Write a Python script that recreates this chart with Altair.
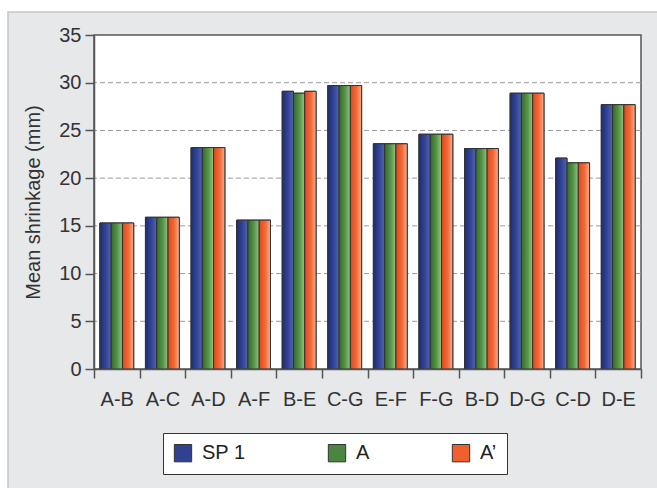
import altair as alt
import pandas as pd

categories = ["A-B", "A-C", "A-D", "A-F", "B-E", "C-G", "E-F", "F-G", "B-D", "D-G", "C-D", "D-E"]
series_names = ["SP 1", "A", "A’"]
sp1_values = [15.3, 15.9, 23.2, 15.6, 29.1, 29.7, 23.6, 24.6, 23.1, 28.9, 22.1, 27.7]
a_values = [15.3, 15.9, 23.2, 15.6, 28.9, 29.7, 23.6, 24.6, 23.1, 28.9, 21.6, 27.7]
ap_values = [15.3, 15.9, 23.2, 15.6, 29.1, 29.7, 23.6, 24.6, 23.1, 28.9, 21.6, 27.7]
grid_values = [5, 10, 15, 20, 25, 30]
y_ticks = [0, 5, 10, 15, 20, 25, 30, 35]

base_colors = ["#30418f", "#4b8540", "#f0602e"]
gradients = [
    ["#1f2c6e", "#34469a", "#5364b4"],
    ["#35692c", "#559649", "#96c487"],
    ["#dc4a1a", "#f26a38", "#ffad8e"],
]

rows = []
for s, vals in zip(series_names, [sp1_values, a_values, ap_values]):
    for c, v in zip(categories, vals):
        rows.append({"cat": c, "series": s, "value": v})
df = pd.DataFrame(rows)

W, H = 547, 334
PAD_L, PAD_T = 94, 35
FONT = "Liberation Sans"

x_enc = alt.X("cat:N", sort=categories, title=None,
              scale=alt.Scale(paddingInner=0, paddingOuter=0),
              axis=alt.Axis(labelAngle=0, tickBand="extent", tickSize=9, labelPadding=11,
                            labelFontSize=20, labelColor="#333", domainColor="#555",
                            tickColor="#555", domainWidth=1.5, tickWidth=1.5, zindex=1,
                            labelFont=FONT))
xoff_enc = alt.XOffset("series:N", sort=series_names,
                       scale=alt.Scale(domain=series_names, paddingInner=0, paddingOuter=0.52))
y_enc = alt.Y("value:Q", title="Mean shrinkage (mm)",
              scale=alt.Scale(domain=[0, 35], nice=False),
              axis=alt.Axis(values=y_ticks, grid=False, tickSize=9, labelPadding=4,
                            labelFontSize=20, labelColor="#333", titleFontSize=20,
                            titleFontWeight="normal", titleColor="#333", titlePadding=15,
                            domainColor="#555", tickColor="#555", domainWidth=1.5,
                            tickWidth=1.5, zindex=1, labelFont=FONT, titleFont=FONT))

panel = alt.Chart(pd.DataFrame({"k": [0]})).mark_rect(
    fill="#e6e8ea", stroke="#c4c6c8", strokeWidth=1.5
).encode(x=alt.value(8 - PAD_L), x2=alt.value(700), y=alt.value(12 - PAD_T), y2=alt.value(520))

plot_bg = alt.Chart(pd.DataFrame({"k": [0]})).mark_rect(
    fill="white", stroke="#555", strokeWidth=1.5
).encode(x=alt.value(0), x2=alt.value(W), y=alt.value(0), y2=alt.value(H))

grid = alt.Chart(pd.DataFrame({"g": grid_values})).mark_rule(
    color="#9a9a9a", strokeDash=[5, 3], strokeWidth=1
).encode(y=alt.Y("g:Q", scale=alt.Scale(domain=[0, 35], nice=False)))

bars_base = alt.Chart(df).mark_bar(stroke="#333", strokeWidth=1).encode(
    x=x_enc, xOffset=xoff_enc, y=y_enc,
    color=alt.Color("series:N", sort=series_names,
                    scale=alt.Scale(domain=series_names, range=base_colors),
                    legend=alt.Legend(title=None, orient="none", legendX=69, legendY=398,
                                      direction="horizontal", symbolType="square",
                                      symbolSize=300, symbolStrokeColor="#333",
                                      symbolStrokeWidth=1, labelFontSize=20, labelColor="#222",
                                      labelFont=FONT, labelOffset=9, columnPadding=80,
                                      padding=10, fillColor="white", strokeColor="#333",
                                      zindex=1)),
)

layers = [panel, plot_bg, grid, bars_base]
for s, stops in zip(series_names, gradients):
    g = alt.Gradient(gradient="linear",
                     stops=[alt.GradientStop(color=stops[0], offset=0),
                            alt.GradientStop(color=stops[1], offset=0.55),
                            alt.GradientStop(color=stops[2], offset=1)],
                     x1=0, x2=1, y1=0, y2=0)
    layers.append(
        alt.Chart(df).transform_filter(alt.datum.series == s).mark_bar(
            fill=g, stroke="#333", strokeWidth=1
        ).encode(x=x_enc, xOffset=xoff_enc, y=y_enc)
    )

chart = alt.layer(*layers).properties(
    width=W, height=H,
    autosize=alt.AutoSizeParams(type="none"),
    padding={"left": PAD_L, "top": PAD_T, "right": 657 - PAD_L - W, "bottom": 488 - PAD_T - H},
    background="white",
).configure_view(stroke=None)

chart.save("out.html", embed_options={"renderer": "svg", "actions": False})
